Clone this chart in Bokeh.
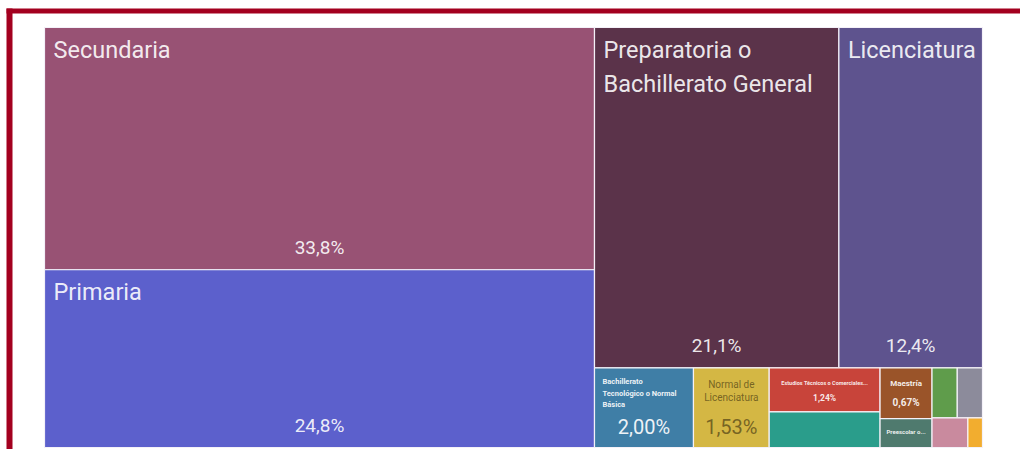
from bokeh.plotting import figure
from bokeh.models import Range1d, BoxAnnotation, ColumnDataSource
from bokeh.embed import file_html
from bokeh.resources import INLINE
from bokeh.core.properties import value as V

# ---------------- data ----------------
categories = [
    "Secundaria",
    "Primaria",
    "Preparatoria o Bachillerato General",
    "Licenciatura",
    "Bachillerato Tecnológico o Normal Básica",
    "Normal de Licenciatura",
    "Estudios Técnicos o Comerciales con Secundaria Terminada",
    "Ninguno",
    "Maestría",
    "Preescolar o Kinder",
    "Estudios Técnicos o Comerciales con Preparatoria Terminada",
    "No especificado",
    "Especialidad",
    "Doctorado",
]
values = [33.8, 24.8, 21.1, 12.4, 2.00, 1.53, 1.24, 1.00, 0.67, 0.38, 0.32, 0.32, 0.27, 0.11]
colors = ["#985274", "#5c60cc", "#5b334a", "#5e538e", "#3f7ea6", "#d4b744",
          "#c8443a", "#2a9d8b", "#9a5429", "#4f7a6e", "#5f9c4b", "#8c8b9b",
          "#c98a9e", "#f2ad2f"]
# texts shown in each cell (line breaks as in the chart)
name_lines = [
    ["Secundaria"],
    ["Primaria"],
    ["Preparatoria o", "Bachillerato General"],
    ["Licenciatura"],
    ["Bachillerato", "Tecnológico o Normal", "Básica"],
    ["Normal de", "Licenciatura"],
    ["Estudios Técnicos o Comerciales..."],
    [],
    ["Maestría"],
    ["Preescolar o..."],
    [], [], [], [],
]
show_pct = [True, True, True, True, True, True, True, False, True, False,
            False, False, False, False]

# ---------------- style (per cell) ----------------
FONT = "Roboto"
styles = [
    dict(kind="big"), dict(kind="big"), dict(kind="big"), dict(kind="big"),
    dict(kind="mid", ns=7.5, gap=11.5, first=14, align="left", ps=20, color="#ffffff", w="bold"),
    dict(kind="mid", ns=10, gap=13, first=17, align="center", ps=20, color="#6e5c20", w="normal"),
    dict(kind="small", ns=5.5, ps=8.5, nb=15, pb=30, color="#ffffff"),
    dict(kind="none"),
    dict(kind="small", ns=8, ps=10, nb=16, pb=35, color="#ffffff"),
    dict(kind="small", ns=6, ps=7, nb=13, pb=0, color="#ffffff"),
    dict(kind="none"), dict(kind="none"), dict(kind="none"), dict(kind="none"),
]


def fmt_pct(v):
    s = f"{v:.1f}" if v >= 10 else f"{v:.2f}"
    return s.replace(".", ",") + "%"


def squarify(vals, x0, y0, x1, y1, ratio=(1 + 5 ** 0.5) / 2):
    """Port of d3.treemapSquarify (y grows downward)."""
    n = len(vals)
    rects = [None] * n
    value = float(sum(vals))
    i0 = 0
    while i0 < n:
        dx, dy = x1 - x0, y1 - y0
        i1 = i0
        sum_v = vals[i1]
        i1 += 1
        min_v = max_v = sum_v
        alpha = max(dy / dx, dx / dy) / (value * ratio)
        beta = sum_v * sum_v * alpha
        min_ratio = max(max_v / beta, beta / min_v)
        while i1 < n:
            nv = vals[i1]
            s2 = sum_v + nv
            mn, mx = min(min_v, nv), max(max_v, nv)
            beta = s2 * s2 * alpha
            nr = max(mx / beta, beta / mn)
            if nr > min_ratio:
                break
            sum_v, min_v, max_v, min_ratio = s2, mn, mx, nr
            i1 += 1
        row = range(i0, i1)
        if dx < dy:  # horizontal row at top
            yy = y0 + dy * sum_v / value
            cx = x0
            for i in row:
                w = dx * vals[i] / sum_v
                rects[i] = (cx, y0, cx + w, yy)
                cx += w
            y0 = yy
        else:  # vertical column at left
            xx = x0 + dx * sum_v / value
            cy = y0
            for i in row:
                h = dy * vals[i] / sum_v
                rects[i] = (x0, cy, xx, cy + h)
                cy += h
            x0 = xx
        value -= sum_v
        i0 = i1
    return rects


rects = squarify(values, 44, 27, 982, 447)

src = ColumnDataSource(dict(
    left=[r[0] for r in rects], right=[r[2] for r in rects],
    top=[r[1] for r in rects], bottom=[r[3] for r in rects],
    color=colors, name=categories, value=values,
))

p = figure(width=1020, height=449, output_backend="svg", toolbar_location=None,
           x_range=Range1d(0, 1020), y_range=Range1d(449, 0),
           min_border=0, outline_line_color=None, background_fill_color="white",
           border_fill_color="white")
p.axis.visible = False
p.grid.visible = False

# red frame (top and left)
p.add_layout(BoxAnnotation(left=6, right=1020, top=8, bottom=13, fill_color="#a3001f",
                           fill_alpha=1, line_color=None, level="underlay"))
p.add_layout(BoxAnnotation(left=6, right=12, top=8, bottom=449, fill_color="#a3001f",
                           fill_alpha=1, line_color=None, level="underlay"))

p.quad(left="left", right="right", top="top", bottom="bottom", source=src,
       fill_color="color", line_color="#f4f1f8", line_width=1.2)

# labels (y = visual centre of the text line)
T = dict(x=[], y=[], text=[], size=[], color=[], align=[], style=[], alpha=[])


def add(x, y, t, size, color, align, style="normal", alpha=0.9):
    T["x"].append(x); T["y"].append(y); T["text"].append(t)
    T["size"].append(f"{size}px"); T["color"].append(color)
    T["align"].append(align); T["style"].append(style); T["alpha"].append(alpha)


for i, (r, lines, st) in enumerate(zip(rects, name_lines, styles)):
    x0, y0, x1, y1 = r
    xc = (x0 + x1) / 2
    k = st["kind"]
    if k == "big":
        for j, ln in enumerate(lines):
            add(x0 + 9, y0 + 22 + j * 34, ln, 23.5, "#ffffff", "left", alpha=0.9)
        if show_pct[i]:
            add(xc, y1 - 22.5, fmt_pct(values[i]), 19, "#ffffff", "center", alpha=0.9)
    elif k == "mid":
        for j, ln in enumerate(lines):
            xx = x0 + 8 if st["align"] == "left" else xc
            add(xx, y0 + st["first"] + j * st["gap"], ln, st["ns"], st["color"],
                st["align"], st["w"], 0.92)
        if show_pct[i]:
            add(xc, y1 - 21, fmt_pct(values[i]), st["ps"], st["color"], "center", alpha=0.92)
    elif k == "small":
        for ln in lines:
            add(xc, y0 + st["nb"], ln, st["ns"], st["color"], "center", "bold", 0.9)
        if show_pct[i]:
            add(xc, y0 + st["pb"], fmt_pct(values[i]), st["ps"], st["color"], "center", "bold", 0.9)

p.text(x="x", y="y", text="text", source=ColumnDataSource(T),
       text_font=V(FONT), text_font_size="size", text_color="color",
       text_align="align", text_font_style="style", text_alpha="alpha",
       text_baseline="middle")

open("out.html", "w").write(file_html(p, INLINE))
